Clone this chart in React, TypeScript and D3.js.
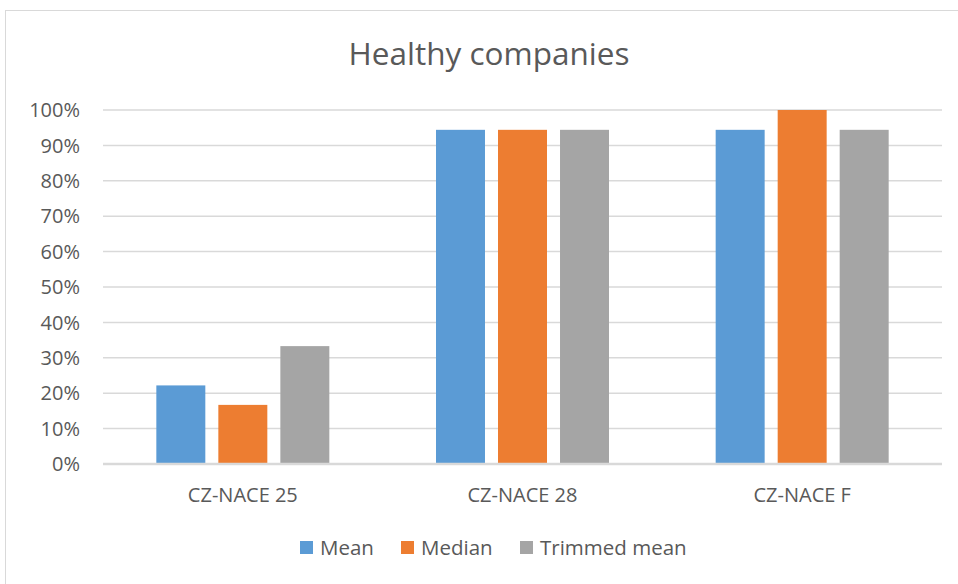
import React from "react";
import * as d3 from "d3";

const categories = ["CZ-NACE 25", "CZ-NACE 28", "CZ-NACE F"];
const seriesNames = ["Mean", "Median", "Trimmed mean"];
const meanValues = [0.222, 0.944, 0.944];
const medianValues = [0.167, 0.944, 1.0];
const trimmedValues = [0.333, 0.944, 0.944];
const yTicks = [0, 0.1, 0.2, 0.3, 0.4, 0.5, 0.6, 0.7, 0.8, 0.9, 1.0];
const colors = ["#5B9BD5", "#ED7D31", "#A5A5A5"];

const W = 958;
const H = 584;
const FONT = "'Open Sans', sans-serif";
const TEXT = "#595959";

export default function App() {
  const plotLeft = 103;
  const plotRight = 942;
  const plotTop = 110;
  const plotBottom = 464;

  const x = d3.scaleBand<string>().domain(categories).range([plotLeft, plotRight]).padding(0);
  const groupWidth = 173;
  const xs = d3
    .scaleBand<string>()
    .domain(seriesNames)
    .range([-groupWidth / 2, groupWidth / 2])
    .paddingInner(0.21)
    .paddingOuter(0);
  const y = d3.scaleLinear().domain([0, 1]).range([plotBottom, plotTop]);
  const fmt = d3.format(".0%");
  const series = [meanValues, medianValues, trimmedValues];

  const legendItems = [
    { name: seriesNames[0], x: 300 },
    { name: seriesNames[1], x: 401 },
    { name: seriesNames[2], x: 520 },
  ];

  return (
    <svg
      width={W}
      height={H}
      style={{ position: "absolute", left: 0, top: 0, background: "#fff" }}
      fontFamily={FONT}
    >
      <rect x={5.5} y={10.5} width={W + 10} height={H + 10} fill="#fff" stroke="#d9d9d9" strokeWidth={1} />
      <text x={489} y={65} textAnchor="middle" fontSize={31.5} fill={TEXT}>
        Healthy companies
      </text>
      {yTicks.map((t) => (
        <g key={t}>
          {t > 0 && (
            <line x1={plotLeft} x2={plotRight} y1={y(t)} y2={y(t)} stroke="#d9d9d9" strokeWidth={1.5} />
          )}
          <text x={80} y={y(t)} dy="0.36em" textAnchor="end" fontSize={20} fill={TEXT}>
            {fmt(t)}
          </text>
        </g>
      ))}
      {categories.map((c, ci) => (
        <g key={c} transform={`translate(${(x(c) as number) + x.bandwidth() / 2},0)`}>
          {series.map((vals, si) => (
            <rect
              key={si}
              x={xs(seriesNames[si]) as number}
              y={y(vals[ci])}
              width={xs.bandwidth()}
              height={plotBottom - y(vals[ci])}
              fill={colors[si]}
            />
          ))}
          <text x={0} y={502} textAnchor="middle" fontSize={20} fill={TEXT}>
            {c}
          </text>
        </g>
      ))}
      <line x1={plotLeft} x2={plotRight} y1={plotBottom} y2={plotBottom} stroke="#d9d9d9" strokeWidth={2.5} />
      {legendItems.map((it, i) => (
        <g key={it.name}>
          <rect x={it.x} y={541} width={13} height={13} fill={colors[i]} />
          <text x={it.x + 20} y={555} fontSize={20.5} fill={TEXT}>
            {it.name}
          </text>
        </g>
      ))}
    </svg>
  );
}
